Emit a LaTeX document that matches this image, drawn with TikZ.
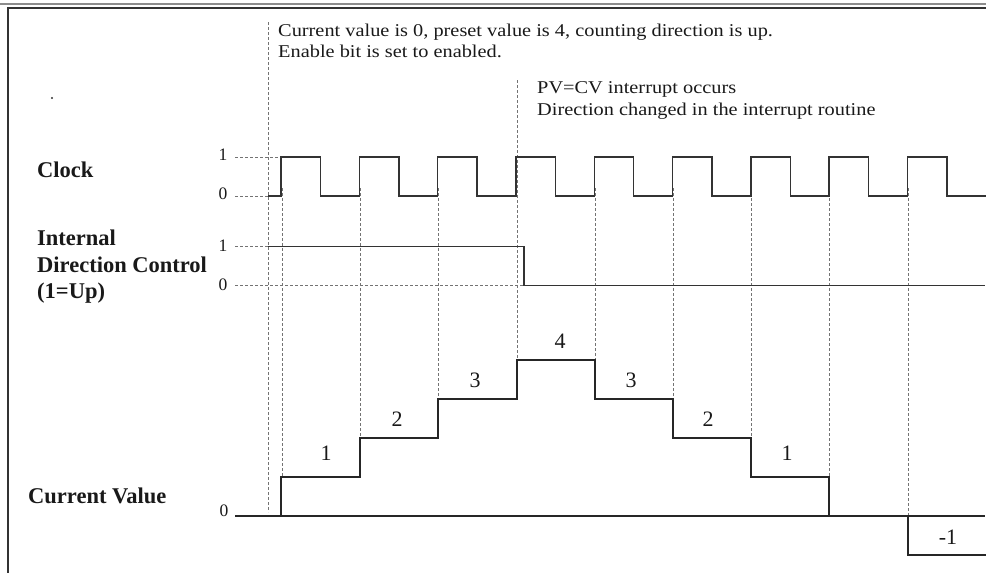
\documentclass[tikz,border=0pt]{standalone}
\usepackage{fontspec}
\setmainfont{Liberation Serif}
\newfontfamily\notefont[FakeStretch=1.13]{Liberation Serif}
\begin{document}
\begin{tikzpicture}[x=1pt,y=-1pt,
  wave/.style={draw=black!80, line width=1.4pt, line join=miter},
  cvline/.style={draw=black!85, line width=1.7pt},
  guide/.style={draw=black!55, line width=0.7pt, dash pattern=on 3pt off 2pt},
  sigtitle/.style={font=\bfseries\fontsize{22.5}{26.5}\selectfont, align=left, inner sep=0pt, anchor=west, text=black!90},
  note/.style={font=\notefont\fontsize{18}{21.5}\selectfont, align=left, inner sep=0pt, anchor=west, text=black!90},
  lvl/.style={font=\fontsize{17.5}{17.5}\selectfont, inner sep=0pt, text=black!90},
  count/.style={font=\fontsize{22}{22}\selectfont, inner sep=0pt, text=black!90}]
\useasboundingbox (0,0) rectangle (986,573);

% frame
\draw[black!45, line width=2pt] (0,4) -- (986,4);
\draw[black!80, line width=1.3pt] (8,573) -- (8,8) -- (986,8);

% annotations
\node[note] (start) at (278,41) {Current value is 0, preset value is 4, counting direction is up.\\Enable bit is set to enabled.};
\node[note] (irq) at (537,100.5) {PV=CV interrupt occurs\\Direction changed in the interrupt routine};
\fill[black!80] (52,98) circle (1.2);

% signal names
\node[sigtitle] (clk) at (37,170) {Clock};
\node[sigtitle] (dir) at (37,267) {Internal\\Direction Control\\(1=Up)};
\node[sigtitle] (cv) at (28,496) {Current Value};

% level marks
\node[lvl] (c1) at (223,155) {1};
\node[lvl] (c0) at (223,194) {0};
\node[lvl] (d1) at (223,246) {1};
\node[lvl] (d0) at (223,285) {0};
\node[lvl] (v0) at (224,511) {0};

% vertical guides
\draw[guide] (268,22) -- (268,512);
\draw[guide] (282,188) -- (282,477);
\draw[guide] (360,188) -- (360,438);
\draw[guide] (438,188) -- (438,399);
\draw[guide] (517,80) -- (517,360);
\draw[guide] (595,188) -- (595,399);
\draw[guide] (673,188) -- (673,438);
\draw[guide] (751,188) -- (751,477);
\draw[guide] (829,188) -- (829,516);
\draw[guide] (908,188) -- (908,516);

% level guides
\draw[guide] (235,157) -- (281,157);
\draw[guide] (235,196) -- (268,196);
\draw[guide] (235,246.7) -- (268,246.7);
\draw[guide] (235,285.7) -- (524,285.7);

% clock
\draw[wave] (268,196) -- (281,196)
  foreach \i in {0,...,8} {
    -- ({281+78.3*\i},157) -- ({320.5+78.3*\i},157)
    -- ({320.5+78.3*\i},196) -- ({281+78.3*(\i+1)},196)
  };

% direction control
\draw[wave] (268,246.7) -- (524,246.7) -- (524,285.7) -- (985,285.7);

% current value
\draw[cvline] (235,516) -- (985,516);
\draw[cvline] (281,516) -- (281,477) -- (360,477) -- (360,438) -- (438,438)
  -- (438,399) -- (517,399) -- (517,360) -- (595,360) -- (595,399)
  -- (673,399) -- (673,438) -- (751,438) -- (751,477) -- (829,477) -- (829,516);
\draw[cvline] (908,516) -- (908,555) -- (986,555);

% count values
\node[count] (n1) at (326,453) {1};
\node[count] (n2) at (397,419) {2};
\node[count] (n3) at (475,380) {3};
\node[count] (n4) at (560,341) {4};
\node[count] (n5) at (631,380) {3};
\node[count] (n6) at (708,419) {2};
\node[count] (n7) at (787,453) {1};
\node[count] (n8) at (948,537) {-1};
\end{tikzpicture}
\end{document}
